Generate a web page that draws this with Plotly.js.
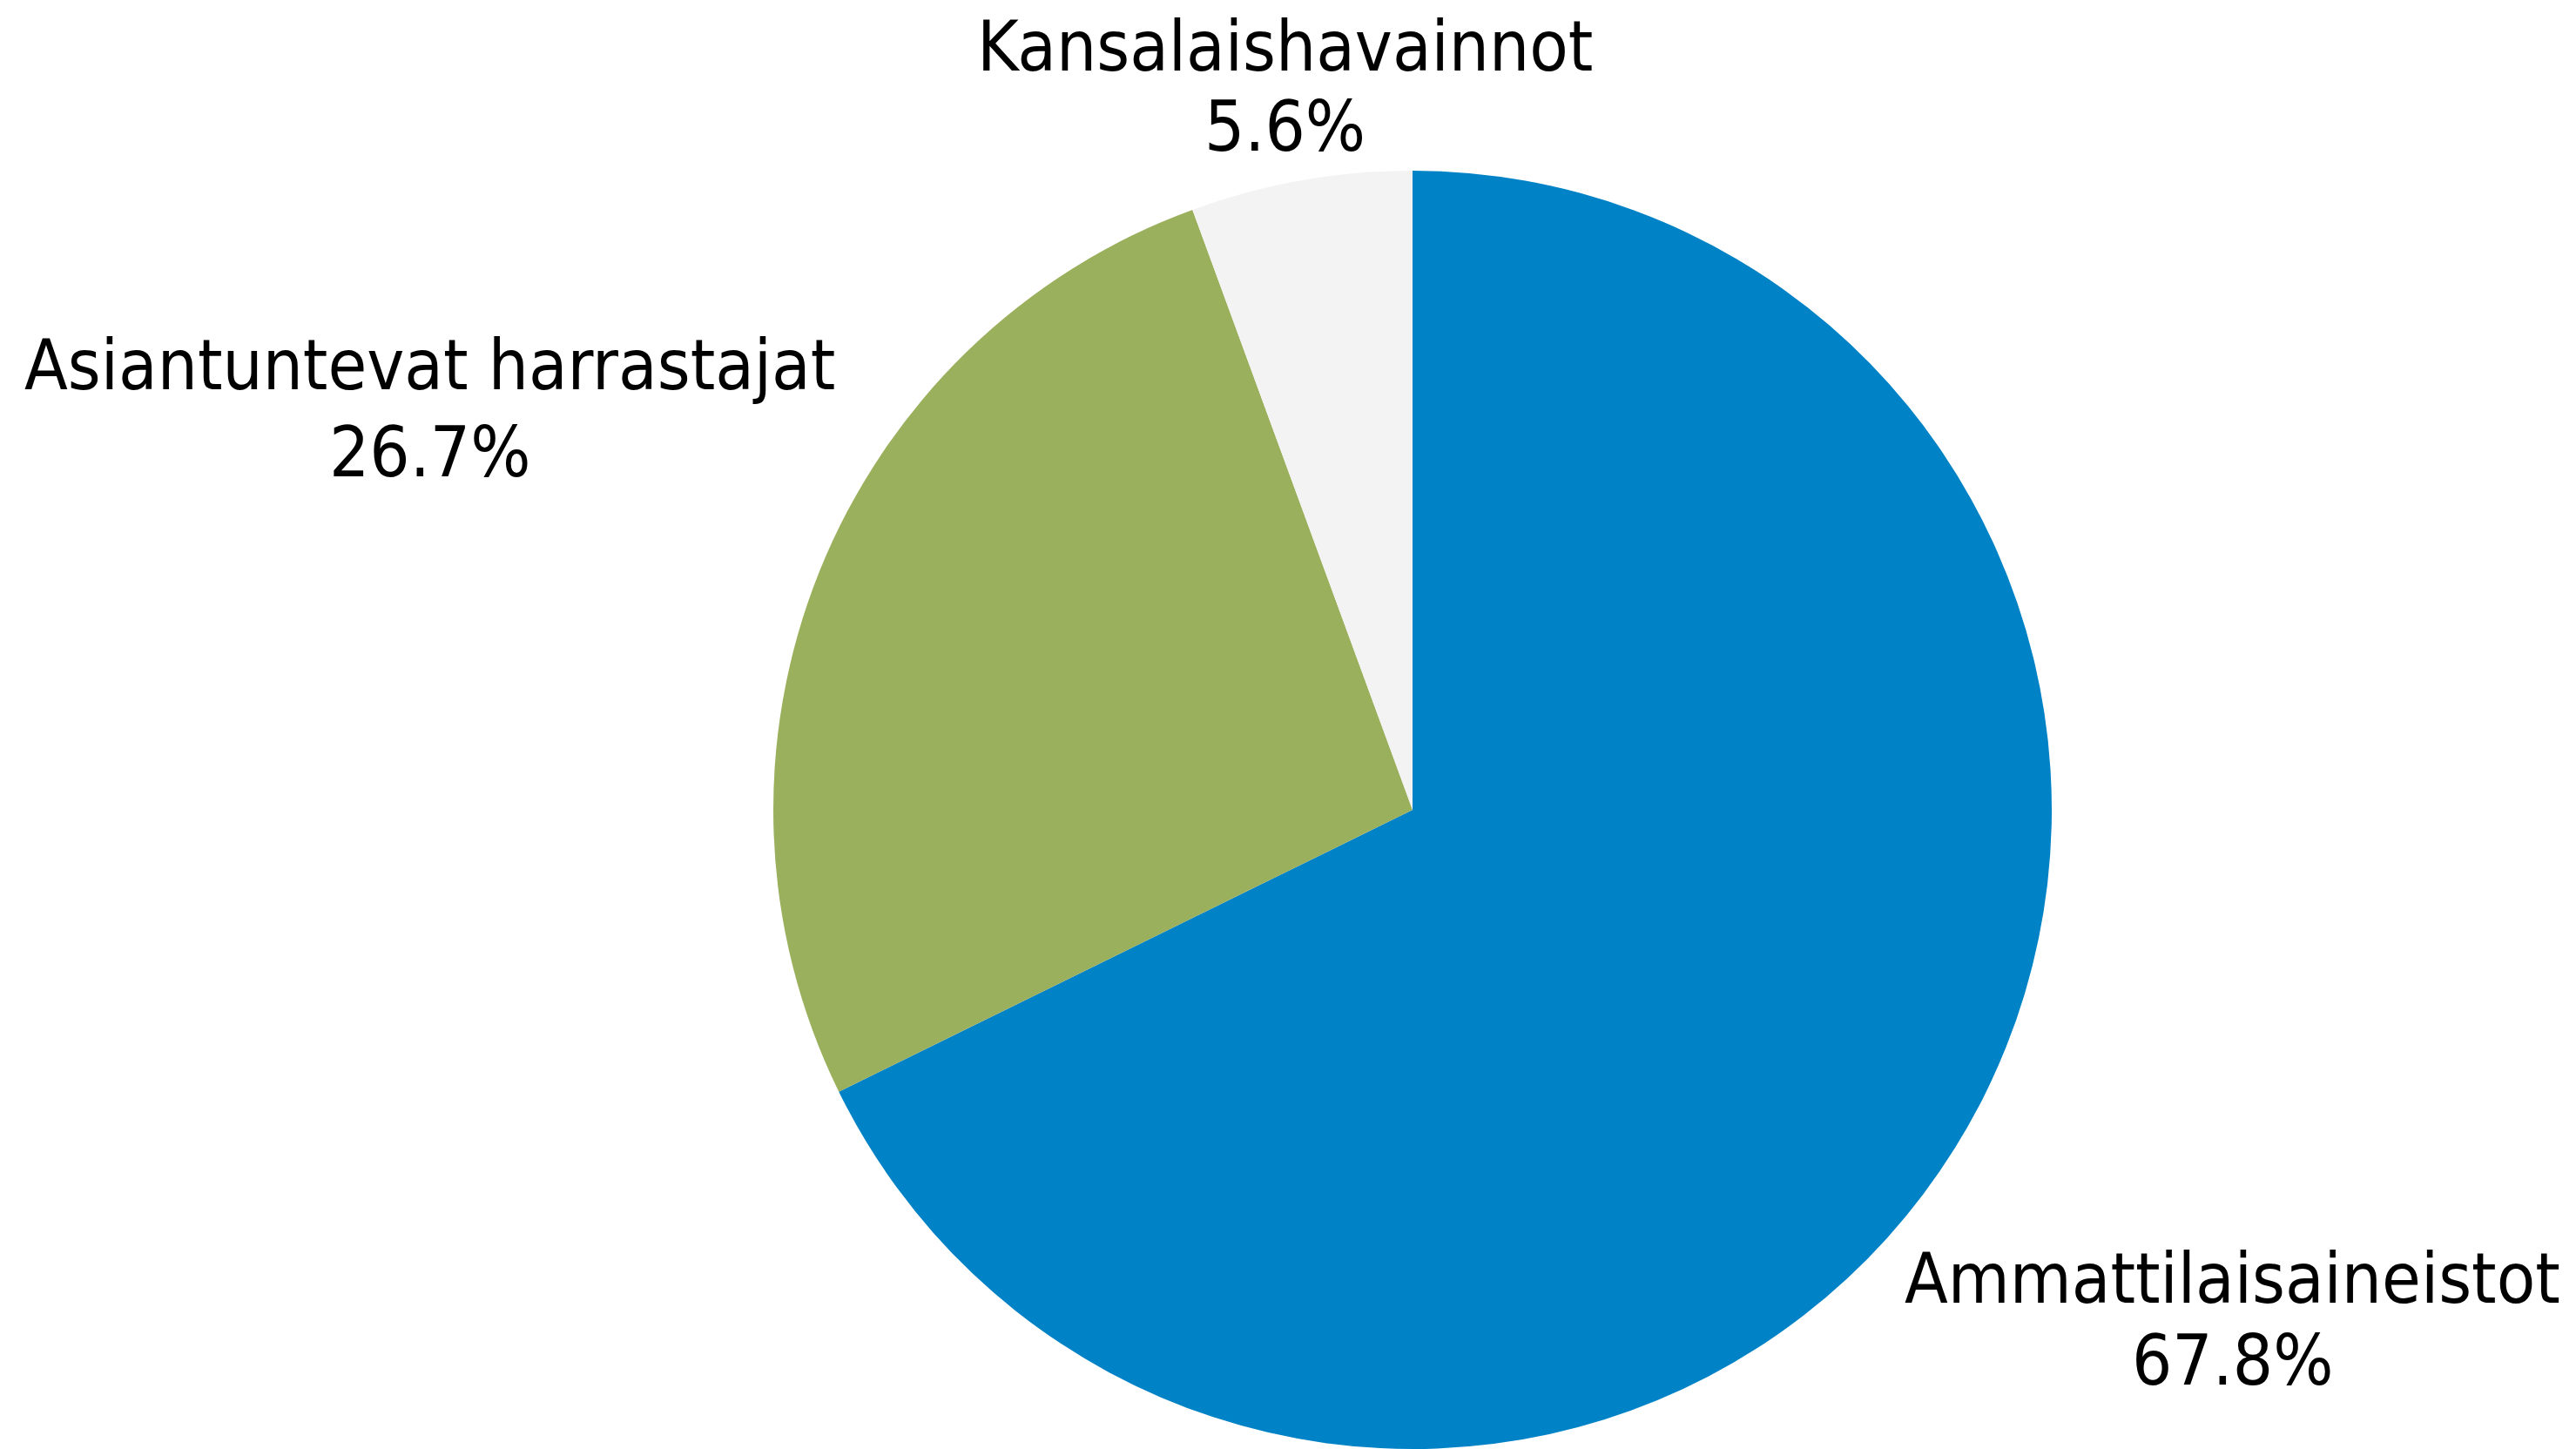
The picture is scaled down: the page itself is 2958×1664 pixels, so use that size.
<!DOCTYPE html>
<html>
<head>
<meta charset="utf-8">
<script src="https://cdn.plot.ly/plotly-3.0.1.min.js"></script>
<style>
html,body{margin:0;padding:0;background:#fff;}
#chart{width:2958px;height:1664px;}
</style>
</head>
<body>
<div id="chart"></div>
<script>
const labels = ["Ammattilaisaineistot", "Asiantuntevat harrastajat", "Kansalaishavainnot"];
const shares = [67.8, 26.7, 5.6];
const colors = ["#0082C6", "#9BB05C", "#F4F3F3"];

// label placement (paper coords): [x, yName, yValue]
const labelPos = [
  [0.8665, 0.118, 0.061],
  [0.167, 0.748, 0.688],
  [0.4988, 0.968, 0.913]
];

const W = 2958, H = 1664;
const fontFamily = '"Liberation Sans Narrow", "DejaVu Sans Condensed", "Roboto", sans-serif';
const fsize = 81;

const annotations = [];
labels.forEach((lab, i) => {
  annotations.push({text: lab, x: labelPos[i][0], y: labelPos[i][1], xref: 'paper', yref: 'paper',
    showarrow: false, xanchor: 'center', yanchor: 'middle', font: {family: fontFamily, size: fsize, color: '#000'}});
  annotations.push({text: shares[i].toFixed(1) + '%', x: labelPos[i][0], y: labelPos[i][2], xref: 'paper', yref: 'paper',
    showarrow: false, xanchor: 'center', yanchor: 'middle', font: {family: fontFamily, size: fsize, color: '#000'}});
});

const trace = {
  type: 'pie',
  labels: labels,
  values: shares,
  sort: false,
  direction: 'clockwise',
  rotation: 0,
  marker: {colors: colors, line: {width: 0}},
  textinfo: 'none',
  hoverinfo: 'label+percent',
  showlegend: false,
  domain: {x: [888 / W, 2356 / W], y: [0, 1 - 196 / H]}
};

const layout = {
  width: W, height: H,
  margin: {l: 0, r: 0, t: 0, b: 0},
  paper_bgcolor: '#fff',
  showlegend: false,
  annotations: annotations
};

Plotly.newPlot('chart', [trace], layout, {displayModeBar: false, staticPlot: true});
</script>
</body>
</html>
